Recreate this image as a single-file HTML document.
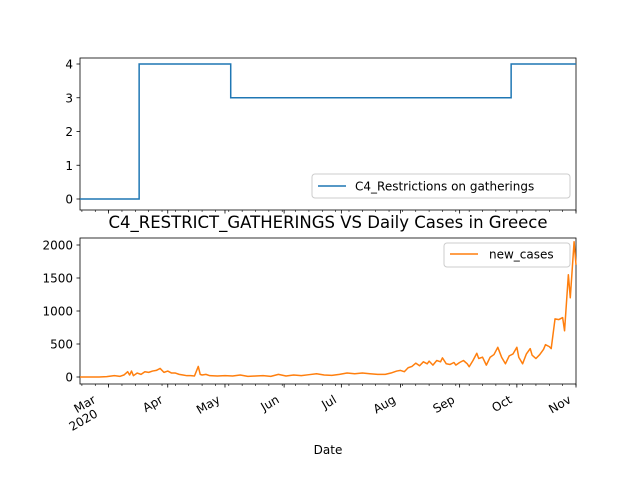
<!DOCTYPE html>
<html><head><meta charset="utf-8"><style>
body{margin:0;background:#fff}
svg text{font-family:"DejaVu Sans","Liberation Sans",sans-serif;fill:#000}
</style></head><body>
<svg width="640" height="480" viewBox="0 0 640 480" id="svg"></svg>
<script>
// Data
const policyDays = [0, 31, 31, 79, 79, 226, 226, 260];
const policyValues = [0, 0, 4, 4, 3, 3, 4, 4];
const caseDays = [0,10,14,18,21,23,25,26,27,28,30,32,34,36,38,40,42,44,46,48,50,52,54,56,58,60,62,63,64,66,68,72,76,80,84,88,92,96,100,104,108,112,116,120,124,128,132,136,140,144,148,152,156,160,163,166,168,170,172,174,176,178,180,182,183,185,187,189,190,192,194,196,197,199,201,203,204,206,208,209,211,213,215,217,219,221,223,225,227,229,230,232,234,236,237,239,241,243,244,246,247,249,251,253,254,256,257,259,260];
const caseValues = [0,0,5,20,10,30,80,30,90,20,60,40,80,70,90,100,130,70,90,60,60,40,30,20,20,15,160,40,30,40,20,15,20,15,30,10,15,20,10,40,15,30,20,35,50,30,25,40,60,50,60,50,40,40,60,90,100,80,140,160,210,170,230,200,240,180,250,230,290,200,190,220,180,220,250,200,155,250,360,280,300,180,300,340,450,300,200,320,350,450,300,200,350,430,330,280,340,420,490,460,430,880,870,900,700,1550,1200,2050,1700];
const yTicks1 = [0,1,2,3,4];
const yTicks2 = [0,500,1000,1500,2000];
const monthLabels = ["Mar","Apr","May","Jun","Jul","Aug","Sep","Oct","Nov"];
const monthDays = [15,46,76,107,137,168,199,229,260];

const svg = document.getElementById('svg');
const NS = 'http://www.w3.org/2000/svg';
function mk(tag, attrs, parent){const e=document.createElementNS(NS,tag);for(const k in attrs)e.setAttribute(k,attrs[k]);(parent||svg).appendChild(e);return e;}
const X0=80,X1=576,D0=0,D1=260;
const xs = d => X0 + (d-D0)/(D1-D0)*(X1-X0);
const y1 = v => 199 - v*33.75;
const y2 = v => 377 - v*0.066;

function axes(top,bot,name){
  const r=mk('rect',{x:X0,y:top,width:X1-X0,height:bot-top,fill:'none',stroke:'#000','stroke-width':0.8});
  
  
  for(let d=1; d<=D1; d+=7){
    const t=mk('line',{x1:xs(d),x2:xs(d),y1:bot,y2:bot+2,stroke:'#000','stroke-width':0.6});
    
    
  }
  monthDays.forEach(d=>{
    const t=mk('line',{x1:xs(d),x2:xs(d),y1:bot,y2:bot+3.5,stroke:'#000','stroke-width':0.8});
    
    
  });
}
axes(58,210,'top-axes');
axes(238,384,'bottom-axes');

yTicks1.forEach(v=>{
  const t=mk('line',{x1:X0-3.5,x2:X0,y1:y1(v),y2:y1(v),stroke:'#000','stroke-width':0.8});
  
  
  const l=mk('text',{x:X0-7,y:y1(v)+4.5,'text-anchor':'end','font-size':12});
  l.textContent=v;
  
  
});
yTicks2.forEach(v=>{
  const t=mk('line',{x1:X0-3.5,x2:X0,y1:y2(v),y2:y2(v),stroke:'#000','stroke-width':0.8});
  
  
  const l=mk('text',{x:X0-7,y:y2(v)+4.5,'text-anchor':'end','font-size':12});
  l.textContent=v;
  
  
});
monthLabels.forEach((m,i)=>{
  const x=xs(monthDays[i])-4-(i===0?8:0), y=402;
  const l=mk('text',{x:x,y:y,'text-anchor':'end','font-size':12,transform:`rotate(-30 ${x} ${y})`});
  l.textContent=m;
  
  
});
const yx=xs(monthDays[0])-10, yy=416;
const yr=mk('text',{x:yx,y:yy,'text-anchor':'end','font-size':12,transform:`rotate(-30 ${yx} ${yy})`});
yr.textContent='2020';



const p1=mk('polyline',{points:policyDays.map((d,i)=>xs(d)+','+y1(policyValues[i])).join(' '),fill:'none',stroke:'#1f77b4','stroke-width':1.5});


const p2=mk('polyline',{points:caseDays.map((d,i)=>xs(d)+','+y2(caseValues[i])).join(' '),fill:'none',stroke:'#ff7f0e','stroke-width':1.5,'stroke-linejoin':'round'});



const g1=mk('g',{});


mk('rect',{x:312,y:174,width:258,height:24,rx:3,fill:'#fff','fill-opacity':0.8,stroke:'#ccc'},g1);
mk('line',{x1:318,x2:346,y1:186,y2:186,stroke:'#1f77b4','stroke-width':1.5},g1);
const t1=mk('text',{x:355,y:190.5,'font-size':12},g1);t1.textContent='C4_Restrictions on gatherings';

const g2=mk('g',{});


mk('rect',{x:444,y:243,width:126,height:24,rx:3,fill:'#fff','fill-opacity':0.8,stroke:'#ccc'},g2);
mk('line',{x1:450,x2:478,y1:254,y2:254,stroke:'#ff7f0e','stroke-width':1.5},g2);
const t2=mk('text',{x:489,y:258.5,'font-size':12},g2);t2.textContent='new_cases';

const title=mk('text',{x:328,y:228,'text-anchor':'middle','font-size':16.5});
title.textContent='C4_RESTRICT_GATHERINGS VS Daily Cases in Greece';


const xt=mk('text',{x:328,y:454,'text-anchor':'middle','font-size':12});
xt.textContent='Date';


</script>
</body></html>
